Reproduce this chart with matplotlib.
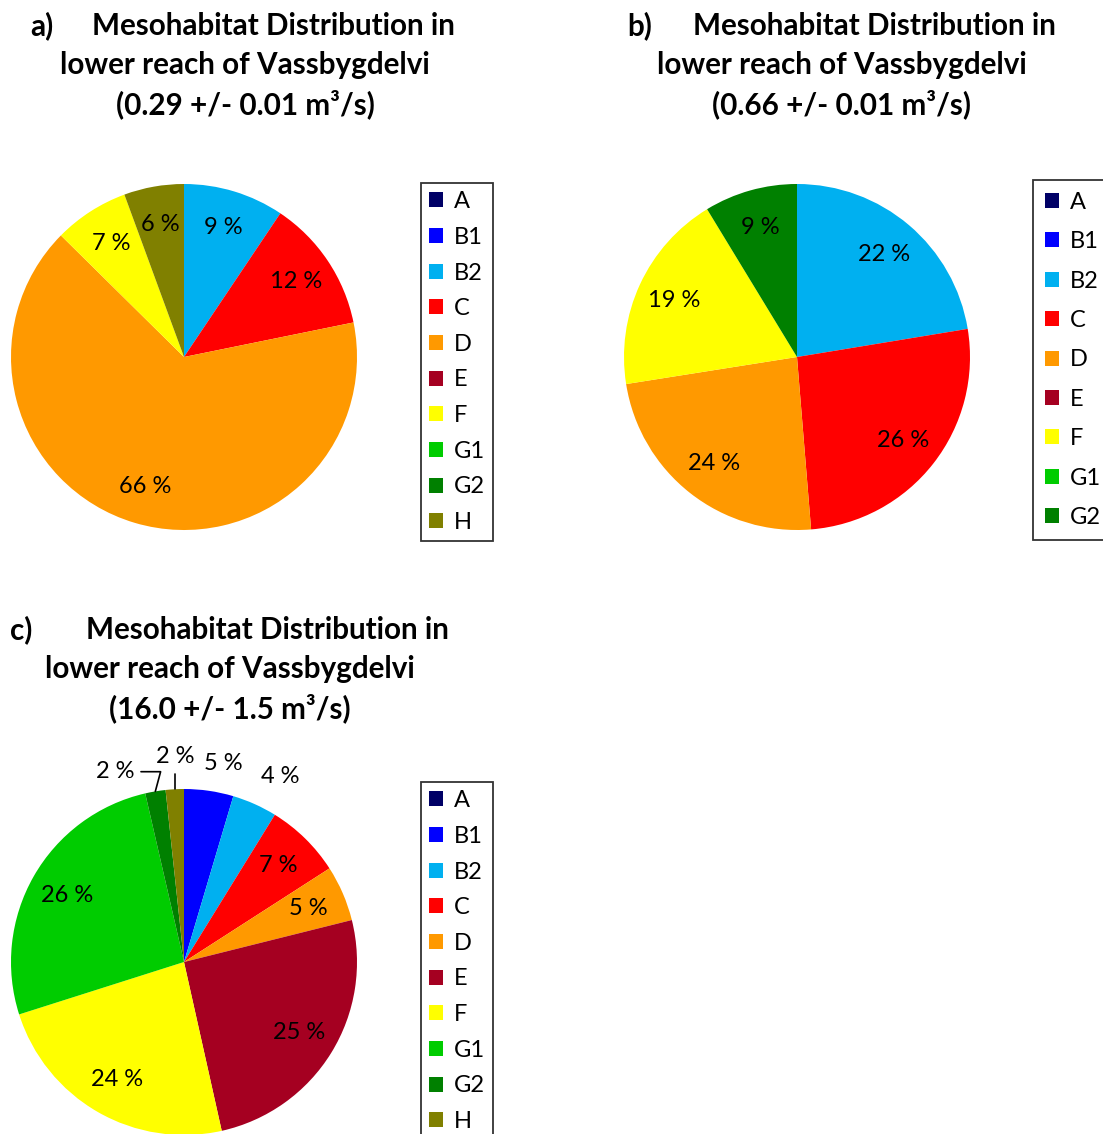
import matplotlib
matplotlib.use("Agg")
import numpy as np
import matplotlib.pyplot as plt
from matplotlib.patches import Patch

plt.rcParams["font.family"] = ["Lato", "DejaVu Sans"]

categories = ["A", "B1", "B2", "C", "D", "E", "F", "G1", "G2", "H"]
colors = ["#000066", "#0000FF", "#00B0F0", "#FF0000", "#FF9900",
          "#A50021", "#FFFF00", "#00CC00", "#008000", "#808000"]

# percent share per category (same order as categories)
values_a = [0, 0, 9.4, 12.4, 65.6, 0, 7.0, 0, 0, 5.6]
values_b = [0, 0, 22.4, 26.3, 23.8, 0, 18.8, 0, 8.7, 0]
values_c = [0, 4.6, 4.2, 7.1, 5.2, 25.4, 23.6, 26.3, 1.9, 1.7]

legend_a = categories
legend_b = categories[:9]
legend_c = categories

title_tags = ["a)", "b)", "c)"]
title_flows = ["(0.29 +/- 0.01 m³/s)",
               "(0.66 +/- 0.01 m³/s)",
               "(16.0 +/- 1.5 m³/s)"]

W, H = 1103, 1134
fig = plt.figure(figsize=(W / 100, H / 100), dpi=100)

LABEL_FS = 17
TITLE_FS = 21.3


def px_axes(x0, y0, x1, y1):
    return fig.add_axes([x0 / W, 1 - y1 / H, (x1 - x0) / W, (y1 - y0) / H])


def draw_pie(ax, values, label_r=0.78, outside=None, leaders=None):
    vals = [v for v in values if v > 0]
    cols = [c for v, c in zip(values, colors) if v > 0]
    cats = [k for v, k in zip(values, categories) if v > 0]
    wedges, _ = ax.pie(vals, colors=cols, startangle=90, counterclock=False,
                       radius=1.0, wedgeprops=dict(linewidth=0))
    ax.set_xlim(-1, 1)
    ax.set_ylim(-1, 1)
    outside = outside or {}
    leaders = leaders or {}
    for w, v, k in zip(wedges, vals, cats):
        w.set_clip_on(False)
        ang = np.deg2rad((w.theta1 + w.theta2) / 2)
        txt = "%.0f %%" % v
        if k in leaders:
            tx, ty, angB = leaders[k]
            ax.annotate(txt, xy=(np.cos(ang), np.sin(ang)), xytext=(tx, ty),
                        ha="center", va="center", fontsize=LABEL_FS,
                        arrowprops=dict(arrowstyle="-", color="black", lw=1.2,
                                        shrinkA=3, shrinkB=0,
                                        connectionstyle="angle,angleA=0,angleB=%d,rad=0" % angB))
        elif k in outside:
            tx, ty = outside[k]
            ax.text(tx, ty, txt, ha="center", va="center", fontsize=LABEL_FS)
        else:
            ax.text(label_r * np.cos(ang), label_r * np.sin(ang), txt,
                    ha="center", va="center", fontsize=LABEL_FS)


def draw_title(tag_x, head_cx, cx, y_top, tag, flow):
    fig.text(tag_x / W, 1 - y_top / H, tag, ha="left", va="center",
             fontsize=TITLE_FS, fontweight="bold")
    fig.text(head_cx / W, 1 - y_top / H, "Mesohabitat Distribution in",
             ha="center", va="center", fontsize=TITLE_FS, fontweight="bold")
    for i, line in enumerate(["lower reach of Vassbygdelvi", flow], start=1):
        fig.text(cx / W, 1 - (y_top + 39 * i) / H, line, ha="center",
                 va="center", fontsize=TITLE_FS, fontweight="bold")


def draw_legend(labels, x0, y0, spacing, pad=0.35):
    handles = [Patch(facecolor=colors[categories.index(k)], edgecolor="none")
               for k in labels]
    leg = fig.legend(handles, labels, loc="upper left",
                     bbox_to_anchor=(x0 / W, 1 - y0 / H),
                     fontsize=LABEL_FS, frameon=True, fancybox=False,
                     edgecolor="black", handlelength=0.6, handleheight=0.6,
                     handletextpad=0.45, borderpad=pad,
                     labelspacing=spacing, borderaxespad=0)
    leg.get_frame().set_linewidth(1.3)


# a)
ax_a = px_axes(11, 184, 357, 530)
draw_pie(ax_a, values_a)
draw_title(30, 273, 245, 26, title_tags[0], title_flows[0])
draw_legend(legend_a, 421, 183, 0.62)

# b)
ax_b = px_axes(624, 184, 970, 530)
draw_pie(ax_b, values_b)
draw_title(627, 874, 842, 26, title_tags[1], title_flows[1])
draw_legend(legend_b, 1033, 180, 0.78, pad=0.5)

# c)
ax_c = px_axes(11, 789, 357, 1135)
draw_pie(ax_c, values_c,
         outside={"B1": (0.23, 1.145), "B2": (0.555, 1.075)},
         leaders={"G2": (-0.40, 1.10, 75), "H": (-0.05, 1.19, 90)})
draw_title(10, 267, 230, 630, title_tags[2], title_flows[2])
draw_legend(legend_c, 421, 782, 0.62)

fig.savefig("out.png", dpi=100)
